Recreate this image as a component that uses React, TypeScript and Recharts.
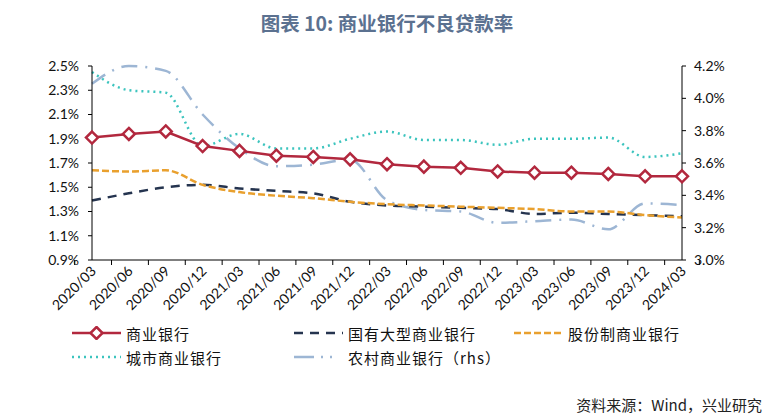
import React from "react";
import {
  ComposedChart,
  Line,
  XAxis,
  YAxis,
} from "recharts";

const QUARTERS = [
  "2020/03", "2020/06", "2020/09", "2020/12",
  "2021/03", "2021/06", "2021/09", "2021/12",
  "2022/03", "2022/06", "2022/09", "2022/12",
  "2023/03", "2023/06", "2023/09", "2023/12",
  "2024/03",
];

// 左轴 (%)
const COMMERCIAL = [1.91, 1.94, 1.96, 1.84, 1.80, 1.76, 1.75, 1.73, 1.69, 1.67, 1.66, 1.63, 1.62, 1.62, 1.61, 1.59, 1.59];
const STATE_OWNED = [1.39, 1.45, 1.50, 1.52, 1.49, 1.47, 1.45, 1.38, 1.35, 1.34, 1.33, 1.32, 1.28, 1.29, 1.28, 1.27, 1.26];
const JOINT_STOCK = [1.64, 1.63, 1.64, 1.52, 1.46, 1.43, 1.41, 1.38, 1.36, 1.35, 1.34, 1.33, 1.32, 1.30, 1.30, 1.27, 1.25];
const CITY = [2.45, 2.30, 2.28, 1.84, 1.94, 1.82, 1.82, 1.90, 1.96, 1.89, 1.89, 1.85, 1.90, 1.90, 1.91, 1.75, 1.78];
// 右轴 (%)
const RURAL = [4.09, 4.20, 4.17, 3.90, 3.69, 3.58, 3.59, 3.62, 3.37, 3.31, 3.30, 3.23, 3.24, 3.25, 3.19, 3.35, 3.34];

const LEFT_TICKS = [0.9, 1.1, 1.3, 1.5, 1.7, 1.9, 2.1, 2.3, 2.5];
const RIGHT_TICKS = [3.0, 3.2, 3.4, 3.6, 3.8, 4.0, 4.2];

const data = QUARTERS.map((q, i) => ({
  q,
  commercial: COMMERCIAL[i],
  stateOwned: STATE_OWNED[i],
  jointStock: JOINT_STOCK[i],
  city: CITY[i],
  rural: RURAL[i],
}));

const W = 774;
const AXIS_W = 92;
const HALF_BAND = (W - AXIS_W * 2) / QUARTERS.length / 2;
const FONT = "Lato, 'Noto Sans', sans-serif";
const CJK = "'Noto Sans CJK SC', sans-serif";

const C = {
  red: "#B2283E",
  navy: "#25344F",
  orange: "#E9A02E",
  teal: "#3CC4BE",
  blue: "#9DB6D4",
};

// eslint-disable-next-line @typescript-eslint/no-explicit-any
function Diamond({ cx, cy }: any) {
  if (cx == null || cy == null) return null;
  const r = 6;
  return (
    <path
      d={`M${cx},${cy - r} L${cx + r},${cy} L${cx},${cy + r} L${cx - r},${cy} Z`}
      fill="#fff"
      stroke={C.red}
      strokeWidth={2.5}
    />
  );
}

// eslint-disable-next-line @typescript-eslint/no-explicit-any
function QuarterTick({ x, y, payload, index }: any) {
  const last = index === QUARTERS.length - 1;
  return (
    <g>
      <line x1={x - HALF_BAND} x2={x - HALF_BAND} y1={y - 8} y2={y - 3} stroke="#000" />
      {last && <line x1={x + HALF_BAND} x2={x + HALF_BAND} y1={y - 8} y2={y - 3} stroke="#000" />}
      <text
        x={x + 5}
        y={y + 4}
        textAnchor="end"
        transform={`rotate(-45, ${x + 5}, ${y + 4})`}
        fontSize={14}
        fontFamily={FONT}
        fill="#111"
      >
        {payload.value}
      </text>
    </g>
  );
}

function LegendItem({ label, swatch }: { label: string; swatch: React.ReactNode }) {
  return (
    <div style={{ display: "flex", alignItems: "center", whiteSpace: "nowrap", height: 20 }}>
      <svg width={49} height={14} style={{ flex: "none" }}>{swatch}</svg>
      <span style={{ marginLeft: 5, letterSpacing: 1 }}>{label}</span>
    </div>
  );
}

export default function App() {
  const tickStyle = { fill: "#111", fontSize: 14, fontFamily: FONT };
  return (
    <div style={{ position: "absolute", left: 0, top: 0, width: W, height: 419, background: "#fff", overflow: "hidden" }}>
      <div
        style={{
          position: "absolute", top: 8, left: 0, width: W, textAlign: "center",
          fontFamily: CJK, fontWeight: 700, fontSize: 19.5, color: "#5B7190",
        }}
      >
        图表 10: 商业银行不良贷款率
      </div>

      <div style={{ position: "absolute", left: 0, top: 0 }}>
        <ComposedChart width={W} height={320} data={data} margin={{ top: 66, right: 0, left: 0, bottom: 0 }}>
          <XAxis
            dataKey="q"
            height={60}
            axisLine={{ stroke: "#000" }}
            tickLine={false}
            interval={0}
            tick={<QuarterTick />}
          />
          <YAxis
            yAxisId="left"
            width={AXIS_W}
            domain={[0.9, 2.5]}
            ticks={LEFT_TICKS}
            tickFormatter={(v: number) => `${v.toFixed(1)}%`}
            axisLine={{ stroke: "#000" }}
            tickLine={{ stroke: "#000" }}
            tickSize={4}
            tick={{ ...tickStyle, dx: -7 }}
          />
          <YAxis
            yAxisId="right"
            orientation="right"
            width={AXIS_W}
            domain={[3.0, 4.2]}
            ticks={RIGHT_TICKS}
            tickFormatter={(v: number) => `${v.toFixed(1)}%`}
            axisLine={{ stroke: "#000" }}
            tickLine={{ stroke: "#000" }}
            tickSize={4}
            tick={{ ...tickStyle, dx: 6 }}
          />
          <Line yAxisId="right" dataKey="rural" type="monotone" stroke={C.blue} strokeWidth={2.5}
                strokeDasharray="16 8 2 8" dot={false} isAnimationActive={false} />
          <Line yAxisId="left" dataKey="city" type="monotone" stroke={C.teal} strokeWidth={2.5}
                strokeDasharray="2 4" dot={false} isAnimationActive={false} />
          <Line yAxisId="left" dataKey="stateOwned" type="monotone" stroke={C.navy} strokeWidth={2.5}
                strokeDasharray="9 7" dot={false} isAnimationActive={false} />
          <Line yAxisId="left" dataKey="jointStock" type="monotone" stroke={C.orange} strokeWidth={2.5}
                strokeDasharray="7 3" dot={false} isAnimationActive={false} />
          <Line yAxisId="left" dataKey="commercial" type="linear" stroke={C.red} strokeWidth={2.5}
                dot={<Diamond />} isAnimationActive={false} />
        </ComposedChart>
      </div>

      <div
        style={{
          position: "absolute", left: 72, top: 323, width: 680,
          display: "grid", gridTemplateColumns: "222px 220px 220px", rowGap: 4,
          fontFamily: CJK, fontSize: 15, color: "#111",
        }}
      >
        <LegendItem label="商业银行" swatch={<>
          <line x1={0} x2={49} y1={7} y2={7} stroke={C.red} strokeWidth={2.5} />
          <Diamond cx={24.5} cy={7} />
        </>} />
        <LegendItem label="国有大型商业银行" swatch={
          <line x1={0} x2={49} y1={7} y2={7} stroke={C.navy} strokeWidth={2.5} strokeDasharray="9 7" />
        } />
        <LegendItem label="股份制商业银行" swatch={
          <line x1={0} x2={49} y1={7} y2={7} stroke={C.orange} strokeWidth={2.5} strokeDasharray="7 3" />
        } />
        <LegendItem label="城市商业银行" swatch={
          <line x1={0} x2={49} y1={7} y2={7} stroke={C.teal} strokeWidth={2.5} strokeDasharray="2 4" />
        } />
        <LegendItem label="农村商业银行（rhs）" swatch={
          <line x1={0} x2={49} y1={7} y2={7} stroke={C.blue} strokeWidth={2.5} strokeDasharray="20 7 2 7 2 20" />
        } />
      </div>

      <div
        style={{
          position: "absolute", right: 12, top: 394,
          fontFamily: CJK, fontSize: 15, color: "#222",
        }}
      >
        资料来源：Wind，兴业研究
      </div>
    </div>
  );
}
